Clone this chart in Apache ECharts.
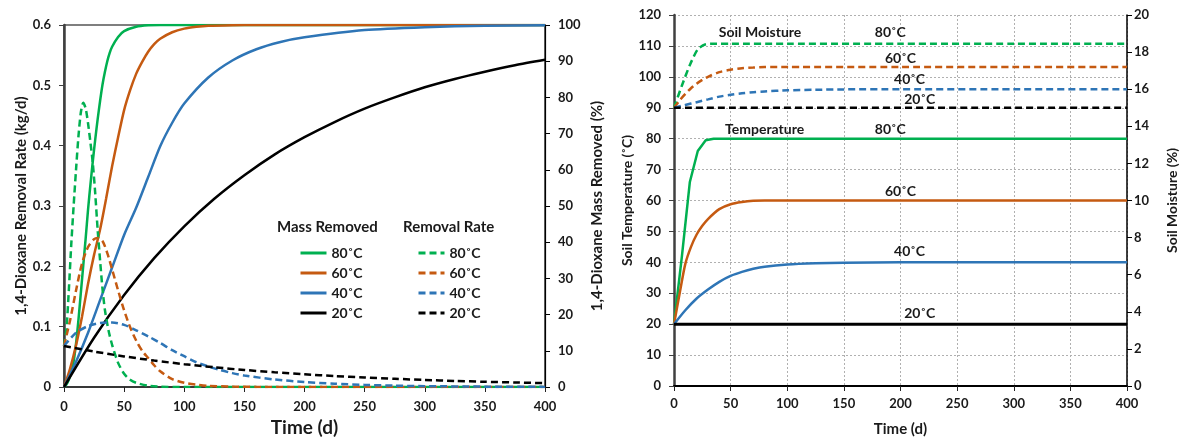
<!DOCTYPE html>
<html>
<head>
<meta charset="utf-8">
<script src="https://cdn.jsdelivr.net/npm/echarts@6/dist/echarts.min.js"></script>
<style>
  html, body { margin: 0; padding: 0; background: #fff; }
  #chart { width: 1180px; height: 442px; }
</style>
</head>
<body>
<div id="chart"></div>
<script>
// ---- 1,4-Dioxane removal (left panel) ----
// Mass removed (%), solid lines
const tMass80 = [0, 2, 4, 6, 8, 10, 12, 14, 16, 18, 20, 22, 24, 26, 28, 30, 32, 34, 36, 38, 40, 45, 50, 60, 70, 80, 100, 200, 300, 400];
const mass80 = [0, 0.7, 2, 4, 7, 12, 18.5, 26, 33.5, 41, 49, 56, 62.5, 68.5, 74, 79, 83.5, 87, 90, 92.3, 94, 96.7, 98.3, 99.5, 99.9, 100, 100, 100, 100, 100];
const tMass60 = [0, 5, 10, 15, 20, 25, 30, 35, 40, 45, 50, 55, 60, 65, 70, 75, 80, 90, 100, 110, 120, 140, 160, 200, 300, 400];
const mass60 = [0, 5, 11.5, 19.5, 28.5, 36.5, 43.5, 52, 61, 69, 76.5, 82, 86.5, 89.8, 92.6, 94.7, 96.2, 98, 99, 99.5, 99.8, 99.95, 100, 100, 100, 100];
const tMass40 = [0, 10, 20, 30, 40, 50, 60, 70, 80, 90, 100, 120, 140, 160, 180, 200, 250, 300, 350, 400];
const mass40 = [0, 7, 15, 24, 33, 42, 49.5, 58, 66.5, 73, 78.3, 85.5, 90.2, 93.3, 95.3, 96.6, 98.6, 99.4, 99.8, 99.9];
const tMass20 = [0, 25, 50, 75, 100, 125, 150, 175, 200, 225, 250, 275, 300, 325, 350, 375, 400];
const mass20 = [0, 13.6, 25.4, 35.6, 44.4, 52, 58.5, 64.2, 69, 73.2, 76.9, 80, 82.8, 85.1, 87.1, 88.9, 90.4];

// Removal rate (kg/d), dashed lines
const tRate80 = [0, 2, 4, 6, 8, 10, 12, 14, 16, 18, 20, 22, 24, 26, 28, 30, 32, 34, 37, 40, 45, 50, 55, 60, 70, 80, 100, 200, 300, 400];
const rate80 = [0.068, 0.095, 0.16, 0.235, 0.30, 0.36, 0.415, 0.455, 0.471, 0.462, 0.437, 0.405, 0.37, 0.32, 0.26, 0.21, 0.163, 0.128, 0.094, 0.07, 0.04, 0.022, 0.012, 0.007, 0.002, 0.0005, 0, 0, 0, 0];
const tRate60 = [0, 5, 10, 15, 20, 25, 28, 32, 36, 40, 45, 50, 55, 60, 65, 70, 75, 80, 90, 100, 110, 120, 140, 160, 200, 300, 400];
const rate60 = [0.068, 0.11, 0.16, 0.205, 0.232, 0.245, 0.247, 0.242, 0.222, 0.195, 0.16, 0.127, 0.099, 0.077, 0.06, 0.048, 0.036, 0.026, 0.013, 0.007, 0.004, 0.002, 0.0007, 0.0002, 0, 0, 0];
const tRate40 = [0, 10, 20, 30, 40, 50, 60, 70, 80, 90, 100, 110, 120, 130, 140, 150, 175, 200, 225, 250, 275, 300, 350, 400];
const rate40 = [0.068, 0.09, 0.101, 0.106, 0.107, 0.103, 0.094, 0.084, 0.073, 0.061, 0.051, 0.041, 0.034, 0.028, 0.023, 0.019, 0.0125, 0.0082, 0.0055, 0.0035, 0.0022, 0.0014, 0.0006, 0.0002];
const tRate20 = [0, 25, 50, 75, 100, 125, 150, 175, 200, 225, 250, 275, 300, 325, 350, 375, 400];
const rate20 = [0.068, 0.0588, 0.0507, 0.0438, 0.0378, 0.0327, 0.0282, 0.0244, 0.021, 0.0182, 0.0157, 0.0136, 0.0117, 0.0101, 0.0087, 0.0075, 0.0065];

// ---- Soil conditions (right panel) ----
const tTemp80 = [0, 7, 14, 21, 28, 35, 50, 100, 200, 300, 400];
const temp80 = [20, 42, 66, 76, 79.5, 80, 80, 80, 80, 80, 80];
const tTemp60 = [0, 5, 10, 15, 20, 25, 30, 40, 50, 60, 70, 80, 100, 200, 300, 400];
const temp60 = [20, 30, 39.5, 45, 49, 51.8, 54, 57.2, 58.8, 59.5, 59.9, 60, 60, 60, 60, 60];
const tTemp40 = [0, 10, 20, 30, 40, 50, 60, 70, 80, 100, 125, 150, 200, 300, 400];
const temp40 = [20, 24.5, 28.3, 31.2, 33.7, 35.6, 36.9, 37.9, 38.6, 39.3, 39.7, 39.9, 40, 40, 40];
const tTemp20 = [0, 400];
const temp20 = [20, 20];

const tMoist80 = [0, 7, 14, 21, 28, 35, 50, 100, 200, 300, 400];
const moist80 = [15, 16.2, 17.3, 18.15, 18.42, 18.45, 18.45, 18.45, 18.45, 18.45, 18.45];
const tMoist60 = [0, 5, 10, 15, 20, 25, 30, 40, 50, 60, 70, 80, 100, 200, 300, 400];
const moist60 = [15, 15.4, 15.75, 16.05, 16.3, 16.5, 16.67, 16.92, 17.05, 17.13, 17.17, 17.2, 17.2, 17.2, 17.2, 17.2];
const tMoist40 = [0, 10, 20, 30, 40, 50, 60, 70, 80, 100, 125, 150, 200, 300, 400];
const moist40 = [15, 15.15, 15.3, 15.45, 15.6, 15.7, 15.78, 15.84, 15.88, 15.94, 15.97, 15.99, 16, 16, 16];
const tMoist20 = [0, 400];
const moist20 = [15, 15];

// Temperature case labels and colours
const tempLabels = ['80˚C', '60˚C', '40˚C', '20˚C'];
const colors = ['#00B050', '#C55A11', '#2E75B6', '#000000'];

// Right-panel annotations: text, time (d), soil temperature axis value
const annoText = ['Soil Moisture', '80˚C', '60˚C', '40˚C', '20˚C', 'Temperature', '80˚C', '60˚C', '40˚C', '20˚C'];
const annoT = [76, 191, 200, 208, 217, 80, 191, 200, 208, 217];
const annoV = [114.3, 114.3, 106, 99, 92.6, 83, 83, 62.8, 43.4, 23.3];

const FONT = 'Lato, "Open Sans", sans-serif';
const bold = (size, color) => ({ fontFamily: FONT, fontWeight: 'bold', fontSize: size, color: color || '#1a1a1a' });
const pairs = (t, v) => t.map((x, i) => [x, v[i]]);

const massSets = [[tMass80, mass80], [tMass60, mass60], [tMass40, mass40], [tMass20, mass20]];
const rateSets = [[tRate80, rate80], [tRate60, rate60], [tRate40, rate40], [tRate20, rate20]];
const tempSets = [[tTemp80, temp80], [tTemp60, temp60], [tTemp40, temp40], [tTemp20, temp20]];
const moistSets = [[tMoist80, moist80], [tMoist60, moist60], [tMoist40, moist40], [tMoist20, moist20]];

const DASH = [7, 4];
const series = [];
massSets.forEach((s, i) => series.push({
  name: 'Mass ' + tempLabels[i], type: 'line', xAxisIndex: 0, yAxisIndex: 1,
  data: pairs(s[0], s[1]), symbol: 'none', smooth: 0.25,
  lineStyle: { color: colors[i], width: 2.5, type: 'solid' }, itemStyle: { color: colors[i] }, z: 3
}));
rateSets.forEach((s, i) => series.push({
  name: 'Rate ' + tempLabels[i], type: 'line', xAxisIndex: 0, yAxisIndex: 0,
  data: pairs(s[0], s[1]), symbol: 'none', smooth: 0.25,
  lineStyle: { color: colors[i], width: 2.5, type: DASH }, itemStyle: { color: colors[i] }, z: 4
}));
tempSets.forEach((s, i) => series.push({
  name: 'Temperature ' + tempLabels[i], type: 'line', xAxisIndex: 1, yAxisIndex: 2,
  data: pairs(s[0], s[1]), symbol: 'none', smooth: i === 0 ? false : 0.25,
  lineStyle: { color: colors[i], width: i === 3 ? 3 : 2.5, type: 'solid' }, itemStyle: { color: colors[i] }, z: 3
}));
moistSets.forEach((s, i) => series.push({
  name: 'Moisture ' + tempLabels[i], type: 'line', xAxisIndex: 1, yAxisIndex: 3,
  data: pairs(s[0], s[1]), symbol: 'none', smooth: 0.25,
  lineStyle: { color: colors[i], width: 2.5, type: DASH }, itemStyle: { color: colors[i] }, z: 3
}));

const legendBase = {
  orient: 'vertical', itemWidth: 26, itemHeight: 12, itemGap: 6, padding: 0,
  selectedMode: false, textStyle: bold(14, '#1a1a1a'),
  formatter: n => n.replace(/^(Mass|Rate) /, '')
};
// legend keys show only the line stroke, no point marker
const legendItem = (prefix, type) => tempLabels.map((l, i) => ({
  name: prefix + l,
  itemStyle: { opacity: 0 },
  lineStyle: { color: colors[i], width: 3, type: type, opacity: 1 }
}));

const dotted = { show: true, lineStyle: { color: '#b0b0b0', type: [2, 2], width: 1 } };

const option = {
  animation: false,
  backgroundColor: '#ffffff',
  grid: [
    { left: 64, top: 25, width: 481, height: 366, show: true, borderColor: '#000', borderWidth: 1.2, backgroundColor: 'transparent' },
    { left: 674, top: 15, width: 456, height: 376 }
  ],
  legend: [
    Object.assign({}, legendBase, { left: 299, top: 246, data: legendItem('Mass ', 'solid') }),
    Object.assign({}, legendBase, { left: 417, top: 246, data: legendItem('Rate ', DASH) })
  ],
  xAxis: [
    {
      type: 'value', gridIndex: 0, min: 0, max: 400, interval: 50,
      name: 'Time (d)', nameLocation: 'middle', nameGap: 31, nameTextStyle: bold(19, '#1a1a1a'),
      axisLine: { lineStyle: { color: '#222', width: 1.5 } },
      axisTick: { show: true, length: 5, lineStyle: { color: '#222' } },
      axisLabel: Object.assign(bold(13, '#1a1a1a'), { margin: 13 }),
      splitLine: { show: false }
    },
    {
      type: 'value', gridIndex: 1, min: 0, max: 400, interval: 50,
      name: 'Time (d)', nameLocation: 'middle', nameGap: 36, nameTextStyle: bold(15, '#1a1a1a'),
      axisLine: { lineStyle: { color: '#000', width: 2 } },
      axisTick: { show: true, length: 5, lineStyle: { color: '#222' } },
      axisLabel: Object.assign(bold(13, '#1a1a1a'), { margin: 11 }),
      splitLine: dotted
    }
  ],
  yAxis: [
    {
      type: 'value', gridIndex: 0, min: 0, max: 0.6, interval: 0.1, position: 'left',
      name: '1,4-Dioxane Removal Rate (kg/d)', nameLocation: 'middle', nameGap: 33, nameTextStyle: bold(15, '#1a1a1a'),
      axisLine: { show: true, lineStyle: { color: '#404040', width: 2.5 } },
      axisTick: { show: true, length: 5, lineStyle: { color: '#404040' } },
      axisLabel: Object.assign(bold(13, '#1a1a1a'), { margin: 13, formatter: v => v === 0 ? '0' : v.toFixed(1) }),
      splitLine: { show: false }
    },
    {
      type: 'value', gridIndex: 0, min: 0, max: 100, interval: 10, position: 'right',
      name: '1,4-Dioxane Mass Removed (%)', nameLocation: 'middle', nameGap: 45, nameRotate: 90, nameTextStyle: bold(15, '#1a1a1a'),
      axisLine: { show: true, lineStyle: { color: '#000', width: 1.2 } },
      axisTick: { show: true, length: 5, lineStyle: { color: '#000' } },
      axisLabel: Object.assign(bold(13, '#1a1a1a'), { margin: 13 }),
      splitLine: { show: false }
    },
    {
      type: 'value', gridIndex: 1, min: 0, max: 120, interval: 10, position: 'left',
      name: 'Soil Temperature (˚C)', nameLocation: 'middle', nameGap: 38, nameTextStyle: bold(14, '#1a1a1a'),
      axisLine: { show: true, lineStyle: { color: '#404040', width: 2.5 } },
      axisTick: { show: true, length: 5, lineStyle: { color: '#404040' } },
      axisLabel: Object.assign(bold(13, '#1a1a1a'), { margin: 13 }),
      splitLine: dotted
    },
    {
      type: 'value', gridIndex: 1, min: 0, max: 20, interval: 2, position: 'right',
      name: 'Soil Moisture (%)', nameLocation: 'middle', nameGap: 38, nameRotate: 90, nameTextStyle: bold(14, '#1a1a1a'),
      axisLine: { show: true, lineStyle: { color: '#000', width: 1.5 } },
      axisTick: { show: true, length: 5, lineStyle: { color: '#000' } },
      axisLabel: Object.assign(bold(13, '#1a1a1a'), { margin: 7 }),
      splitLine: { show: false }
    }
  ],
  series: series
};

const chart = echarts.init(document.getElementById('chart'), null, { renderer: 'canvas' });
chart.setOption(option);

// Legend group headings and right-panel annotations placed through the axes
const graphics = [
  { type: 'text', left: 277, top: 220, style: { text: 'Mass Removed', font: 'bold 15px ' + FONT, fill: '#1a1a1a' } },
  { type: 'text', left: 403, top: 220, style: { text: 'Removal Rate', font: 'bold 15px ' + FONT, fill: '#1a1a1a' } }
];
annoText.forEach((txt, i) => {
  const p = chart.convertToPixel({ xAxisIndex: 1, yAxisIndex: 2 }, [annoT[i], annoV[i]]);
  graphics.push({
    type: 'text', x: p[0], y: p[1],
    style: { text: txt, font: 'bold 14px ' + FONT, fill: '#1a1a1a', textAlign: 'center', textVerticalAlign: 'middle' }
  });
});
chart.setOption({ graphic: graphics });
</script>
</body>
</html>
